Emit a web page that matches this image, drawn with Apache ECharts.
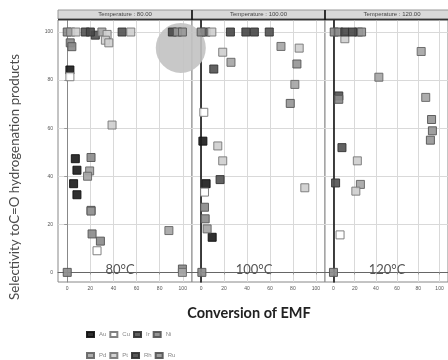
<!DOCTYPE html>
<html>
<head>
<meta charset="utf-8">
<script src="https://cdn.jsdelivr.net/npm/echarts@6/dist/echarts.min.js"></script>
<style>html,body{margin:0;padding:0;background:#fff}#c{width:448px;height:360px}</style>
</head>
<body>
<div id="c"></div>
<script>
// ---- data: [panel index (0=80°C,1=100°C,2=120°C), conversion %, selectivity %] ----
const temps = ['80.00', '100.00', '120.00'];
const tempLabels = ['80°C', '100°C', '120°C'];
const metals = ['Au', 'Cu', 'Ir', 'Ni', 'Pd', 'Pt', 'Rh', 'Ru'];
const xTicks = [0, 20, 40, 60, 80, 100];
const yTicks = [0, 20, 40, 60, 80, 100];

const Au = [[0,2.3,84.2],[0,7,47.3],[0,8.4,42.5],[0,5.5,36.9],[0,8.4,32.3],
            [1,1.5,54.6],[1,4.3,36.9],[1,9.6,14.6]];
const Cu = [[0,2.3,81.4],[0,25.8,9],[1,2.3,66.6],[1,2.9,33.4],[2,6.2,15.6]];
const Ir = [[0,24.3,98.7],[0,47.5,100],[0,15.6,100],
            [1,11,84.6],[1,16.5,38.6],[1,4.3,100],[1,59.4,100],
            [2,5,73.4],[2,8,51.9],[2,2,37.2]];
const Ni = [[0,0,100],[0,2.6,95.5],[0,4,93.9],[0,20.6,47.8],[0,20.6,25.8],[0,21.5,16],[0,28.7,13],[0,0,0],[0,99.7,1.4],
            [1,0,100],[1,2.9,27.1],[1,3.5,22.3],[1,0.6,0],
            [2,0.7,100],[2,5,100],[2,0,0],[2,5,72]];
const Pd = [[0,3,100],[0,30,100],[0,19.4,42.2],[0,17.6,40],[0,88,17.4],[0,99.7,0],
            [1,26,87.4],[1,69.6,94],[1,81.7,78.2],[1,5.2,18.1],
            [2,23.6,100],[2,82.7,91.9],[2,42.8,81.2],[2,87,72.8],[2,25.4,36.6]];
const Pt = [[0,7.5,100],[0,34.5,99],[0,33,96.6],[0,36,95.5],[0,55,100],[0,38.8,61.3],
            [1,9.3,100],[1,18.8,91.6],[1,14.5,52.6],[1,18.8,46.4],[1,85.5,93.3],[1,90.4,35.2],
            [2,10.7,97.2],[2,22.5,46.4],[2,21.1,33.8]];
const Rh = [[0,20,100],[0,91,100],
            [1,39,100],[1,46.4,100],[1,25.5,100],
            [2,10.7,100],[2,17.9,100]];
const Ru = [[0,95.4,100],[0,99.7,100],[0,20.6,25.5],
            [1,83.5,86.7],[1,77.7,70.3],
            [2,26.5,100],[2,92.5,63.6],[2,93.3,58.9],[2,91.4,55]];
const highlight = [[0, 98.3, 93.4]];

const pointsByMetal = {Au, Cu, Ir, Ni, Pd, Pt, Rh, Ru};
const fill = {Au:'#1e1e1e', Cu:'#ffffff', Ir:'#555555', Ni:'#8c8c8c', Pd:'#a6a6a6', Pt:'#cfcfcf', Rh:'#4a4a4a', Ru:'#979797'};
const stroke = {Au:'#111', Cu:'#777', Ir:'#333', Ni:'#555', Pd:'#666', Pt:'#777', Rh:'#333', Ru:'#555'};

const gridLefts = [58, 192, 325];
const gridWidths = [134, 133, 134];
const gridTop = 20, gridHeight = 262;

const grids = [], xAxes = [], yAxes = [], series = [], graphics = [];
for (let p = 0; p < 3; p++) {
  grids.push({left: gridLefts[p], top: gridTop, width: gridWidths[p], height: gridHeight,
              show: true, borderColor: '#888', borderWidth: 1, backgroundColor: '#fff'});
  xAxes.push({type: 'value', gridIndex: p, min: -8, max: 108,
    axisLine: {show: true, lineStyle: {color: '#666', width: 1}},
    axisTick: {show: true, length: 2, customValues: xTicks, lineStyle: {color: '#999'}},
    axisLabel: {customValues: xTicks, fontSize: 5, color: '#555', margin: 4, fontFamily: 'Liberation Sans'},
    splitLine: {show: true, lineStyle: {color: '#d9d9d9', width: 1}}});
  yAxes.push({type: 'value', gridIndex: p, min: -4, max: 105,
    axisLine: {show: true, lineStyle: {color: p === 0 ? '#888' : '#111', width: p === 0 ? 1 : 1.6}},
    axisTick: {show: p === 0, length: 3, customValues: yTicks, lineStyle: {color: '#999'}},
    axisLabel: {show: p === 0, customValues: yTicks, fontSize: 5, color: '#555', margin: 5, fontFamily: 'Liberation Sans'},
    splitLine: {show: true, lineStyle: {color: '#d9d9d9', width: 1}}});
  // panel header strip
  graphics.push({type: 'rect', shape: {x: gridLefts[p], y: 10, width: gridWidths[p], height: 9},
                 style: {fill: '#d9d9d9', stroke: '#999', lineWidth: 1}, z: 10});
  graphics.push({type: 'text', x: gridLefts[p] + gridWidths[p] / 2, y: 14.5,
                 style: {text: 'Temperature : ' + temps[p], fontSize: 6, fill: '#444', align: 'center',
                         verticalAlign: 'middle', fontFamily: 'Liberation Sans'}, z: 11});
  graphics.push({type: 'line', shape: {x1: gridLefts[p], y1: 19.5, x2: gridLefts[p] + gridWidths[p], y2: 19.5},
                 style: {stroke: '#333', lineWidth: 1.5}, z: 11});
  graphics.push({type: 'text', x: gridLefts[p] + 62, y: 270,
                 style: {text: tempLabels[p], fontSize: 13, fill: '#555', align: 'center',
                         verticalAlign: 'middle', fontFamily: 'Lato'}, z: 12});
}
// dividers through headers
[192, 325].forEach(x => graphics.push({type: 'line', shape: {x1: x, y1: 10, x2: x, y2: 20},
  style: {stroke: '#111', lineWidth: 1.6}, z: 12}));

graphics.push({type: 'text', x: 15, y: 177, rotation: Math.PI / 2,
  style: {text: 'Selectivity toC=O hydrogenation products', fontSize: 13.3, fill: '#4a4a4a',
          align: 'center', verticalAlign: 'middle', fontFamily: 'Lato'}});
graphics.push({type: 'text', x: 249, y: 313,
  style: {text: 'Conversion of EMF', fontSize: 14.5, fontWeight: 'bold', fill: '#222',
          align: 'center', verticalAlign: 'middle', fontFamily: 'Lato'}});

series.push({type: 'scatter', name: 'highlight', xAxisIndex: 0, yAxisIndex: 0, symbol: 'circle',
  symbolSize: 50, clip: false, silent: true, z: 2,
  itemStyle: {color: '#c2c2c2', opacity: 0.9}, data: highlight.map(d => [d[1], d[2]])});

metals.forEach(m => {
  for (let p = 0; p < 3; p++) {
    series.push({type: 'scatter', name: m, xAxisIndex: p, yAxisIndex: p, symbol: 'rect', symbolSize: 8, z: 3,
      itemStyle: {color: fill[m], borderColor: stroke[m], borderWidth: 1, opacity: 0.92},
      data: pointsByMetal[m].filter(d => d[0] === p).map(d => [d[1], d[2]])});
  }
});

const legendBase = {icon: 'rect', itemWidth: 7, itemHeight: 5, itemGap: 3, left: 86, padding: 0,
  textStyle: {fontSize: 6, color: '#888', width: 14, fontFamily: 'Liberation Sans'}};
const chart = echarts.init(document.getElementById('c'), null, {renderer: 'canvas'});
chart.setOption({
  animation: false,
  color: metals.map(m => fill[m]),
  grid: grids, xAxis: xAxes, yAxis: yAxes, series: series,
  legend: [Object.assign({}, legendBase, {data: metals.slice(0, 4), top: 331}),
           Object.assign({}, legendBase, {data: metals.slice(4), top: 352})],
  graphic: graphics
});
</script>
</body>
</html>
